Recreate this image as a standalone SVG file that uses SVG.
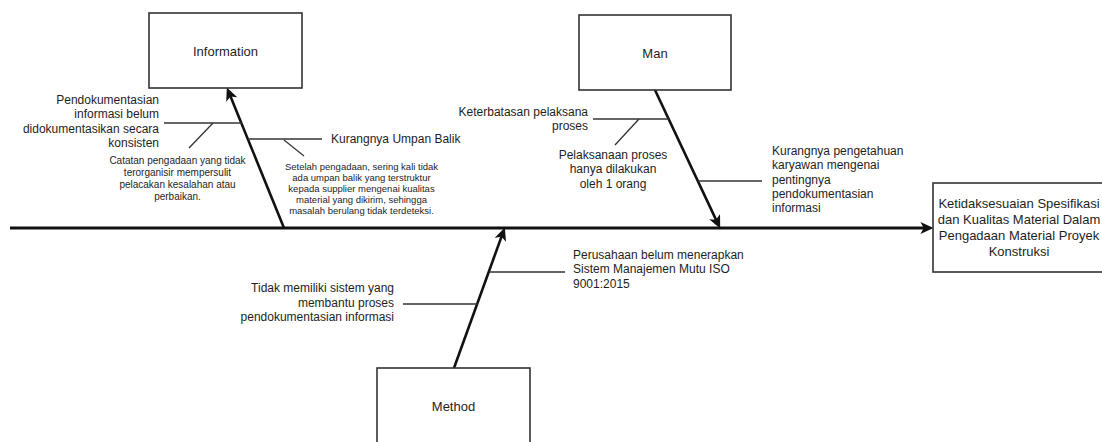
<svg xmlns="http://www.w3.org/2000/svg" width="1102" height="442" viewBox="0 0 1102 442">
<style>
text{font-family:"Liberation Sans",Arial,Helvetica,sans-serif;fill:#1e1e1e}
.box{fill:#fff;stroke:#333;stroke-width:1.6}
.lbl{font-size:13px;text-anchor:middle}
.eff{font-size:13px;text-anchor:middle}
.t12{font-size:12px}
.t10{font-size:10px;text-anchor:middle}
.t9{font-size:9.5px;text-anchor:middle}
.end{text-anchor:end}
.mid{text-anchor:middle}
.bone{stroke:#111;stroke-width:2.6;fill:none}
.spine{stroke:#111;stroke-width:3;fill:none}
.br{stroke:#333;stroke-width:1.3;fill:none}
</style>
<defs>
<marker id="ah" markerUnits="userSpaceOnUse" markerWidth="14" markerHeight="12" viewBox="0 0 12 11" refX="6" refY="5.5" orient="auto">
<path d="M0,0 L12,5.5 L0,11 L3,5.5 Z" fill="#111"/>
</marker>
</defs>

<g id="connectors">
<line class="spine" x1="10" y1="228" x2="927" y2="228" marker-end="url(#ah)"/>
<line class="bone" x1="284" y1="228" x2="229.3" y2="93.5" marker-end="url(#ah)"/>
<line class="bone" x1="655" y1="90" x2="717.4" y2="222.6" marker-end="url(#ah)"/>
<line class="bone" x1="454" y1="368" x2="502.6" y2="233.6" marker-end="url(#ah)"/>
<line class="br" x1="164" y1="123" x2="242" y2="123"/>
<line class="br" x1="213" y1="123" x2="189" y2="148"/>
<line class="br" x1="248" y1="139" x2="322" y2="139"/>
<line class="br" x1="284" y1="140" x2="304" y2="156"/>
<line class="br" x1="593" y1="119" x2="669" y2="119"/>
<line class="br" x1="639" y1="119" x2="615" y2="145"/>
<line class="br" x1="698" y1="181" x2="762" y2="181"/>
<line class="br" x1="403" y1="304" x2="478" y2="304"/>
<line class="br" x1="489" y1="272" x2="565" y2="272"/>
</g>

<g id="information">
<rect class="box" x="149" y="13" width="153" height="75"/>
<text class="lbl" x="225.5" y="55.5">Information</text>
</g>

<g id="man">
<rect class="box" x="579" y="15" width="152" height="75"/>
<text class="lbl" x="655" y="58">Man</text>
</g>

<g id="method">
<rect class="box" x="377" y="368" width="153" height="80"/>
<text class="lbl" x="453.5" y="410.5">Method</text>
</g>

<g id="effect">
<rect class="box" x="933" y="183" width="175" height="89"/>
<text class="eff" x="1019" y="208">Ketidaksesuaian Spesifikasi</text>
<text class="eff" x="1019" y="224">dan Kualitas Material Dalam</text>
<text class="eff" x="1019" y="240">Pengadaan Material Proyek</text>
<text class="eff" x="1019" y="256">Konstruksi</text>
</g>

<g id="info-cause-1">
<text class="t12 end" x="159" y="104">Pendokumentasian</text>
<text class="t12 end" x="159" y="118.4">informasi belum</text>
<text class="t12 end" x="159" y="132.8">didokumentasikan secara</text>
<text class="t12 end" x="159" y="147.2">konsisten</text>
</g>

<g id="info-sub-1">
<text class="t10" x="177.5" y="164">Catatan pengadaan yang tidak</text>
<text class="t10" x="177.5" y="176">terorganisir mempersulit</text>
<text class="t10" x="177.5" y="188">pelacakan kesalahan atau</text>
<text class="t10" x="177.5" y="200">perbaikan.</text>
</g>

<g id="info-cause-2">
<text class="t12" x="331" y="143">Kurangnya Umpan Balik</text>
</g>

<g id="info-sub-2">
<text class="t9" x="361.5" y="170.3">Setelah pengadaan, sering kali tidak</text>
<text class="t9" x="361.5" y="181.3">ada umpan balik yang terstruktur</text>
<text class="t9" x="361.5" y="192.3">kepada supplier mengenai kualitas</text>
<text class="t9" x="361.5" y="203.3">material yang dikirim, sehingga</text>
<text class="t9" x="361.5" y="214.3">masalah berulang tidak terdeteksi.</text>
</g>

<g id="man-cause-1">
<text class="t12 end" x="588" y="116">Keterbatasan pelaksana</text>
<text class="t12 end" x="588" y="130.3">proses</text>
</g>

<g id="man-sub-1">
<text class="t12 mid" x="613" y="159">Pelaksanaan proses</text>
<text class="t12 mid" x="613" y="173.3">hanya dilakukan</text>
<text class="t12 mid" x="613" y="187.6">oleh 1 orang</text>
</g>

<g id="man-cause-2">
<text class="t12" x="772" y="155">Kurangnya pengetahuan</text>
<text class="t12" x="772" y="169.3">karyawan mengenai</text>
<text class="t12" x="772" y="183.6">pentingnya</text>
<text class="t12" x="772" y="197.9">pendokumentasian</text>
<text class="t12" x="772" y="212.2">informasi</text>
</g>

<g id="method-cause-1">
<text class="t12 end" x="394" y="292.3">Tidak memiliki sistem yang</text>
<text class="t12 end" x="394" y="306.6">membantu proses</text>
<text class="t12 end" x="394" y="320.9">pendokumentasian informasi</text>
</g>

<g id="method-cause-2">
<text class="t12" x="573" y="259">Perusahaan belum menerapkan</text>
<text class="t12" x="573" y="273.3">Sistem Manajemen Mutu ISO</text>
<text class="t12" x="573" y="287.6">9001:2015</text>
</g>
</svg>
